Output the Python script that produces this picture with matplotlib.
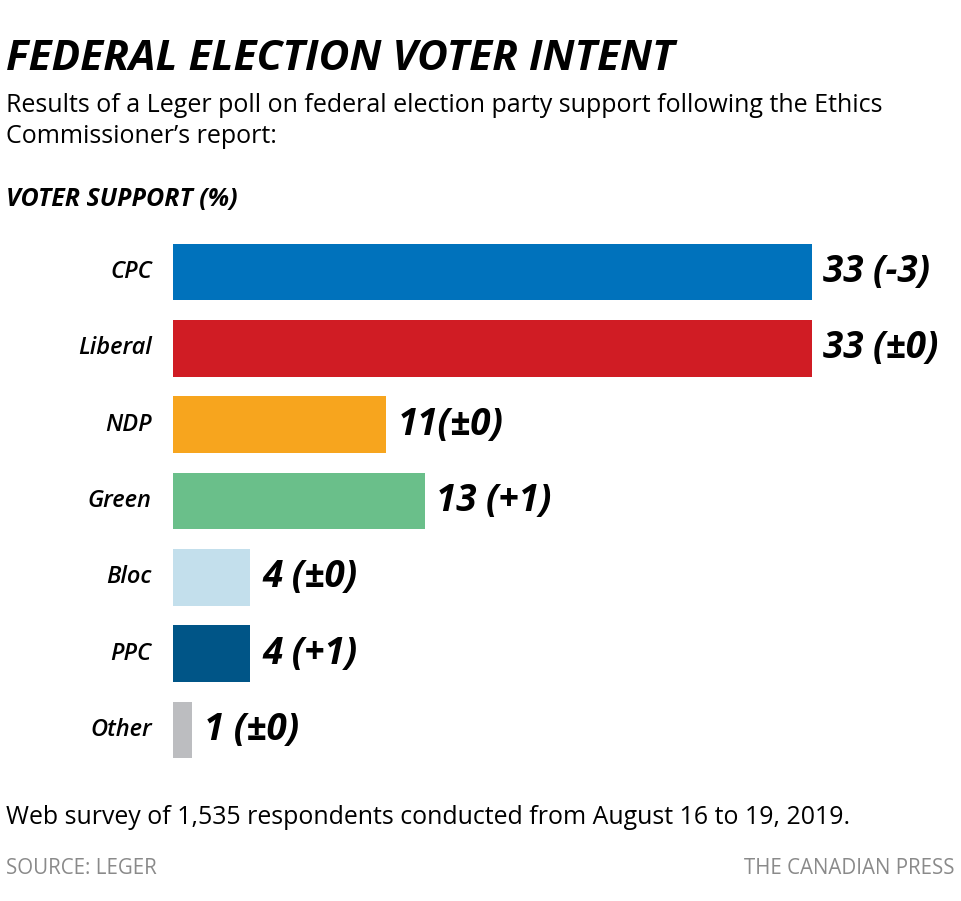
import matplotlib.pyplot as plt

parties = ["CPC", "Liberal", "NDP", "Green", "Bloc", "PPC", "Other"]
support = [33, 33, 11, 13, 4, 4, 1]
value_labels = ["33 (-3)", "33 (\u00b10)", "11(\u00b10)", "13 (+1)", "4 (\u00b10)", "4 (+1)", "1 (\u00b10)"]
colors = ["#0072bc", "#d01c24", "#f7a51e", "#6abf8a", "#c3dfec", "#005587", "#bcbdc0"]

W, H = 961, 901
fig = plt.figure(figsize=(W / 100, H / 100), dpi=100)
plt.rcParams['font.family'] = ['Open Sans', 'DejaVu Sans']

# axes placed in pixel coordinates
left, right, top, bottom = 173, 173 + 40 * 19.36, 234, 768
ax = fig.add_axes([left / W, 1 - bottom / H, (right - left) / W, (bottom - top) / H])
y = range(len(parties))
ax.barh(y, support, height=0.74, color=colors)
ax.set_xlim(0, 40)
ax.set_ylim(len(parties) - 0.5, -0.5)
ax.axis("off")

for i, (v, lab) in enumerate(zip(support, value_labels)):
    ax.text(v + 0.6, i, lab, va="center", ha="left", fontsize=26.5,
            fontweight="bold", fontstyle="italic")
    ax.text(-1.1, i, parties[i], va="center", ha="right", fontsize=17,
            fontstyle="italic", fontweight="semibold", fontstretch="condensed")

fig.text(6 / W, 1 - 60 / H, "FEDERAL ELECTION VOTER INTENT", fontsize=30.5,
         fontweight="bold", fontstyle="italic", va="center")
fig.text(6 / W, 1 - 121 / H,
         "Results of a Leger poll on federal election party support following the Ethics\nCommissioner\u2019s report:",
         fontsize=18, va="center", linespacing=1.35)
fig.text(6 / W, 1 - 200 / H, "VOTER SUPPORT (%)", fontsize=18,
         fontweight="bold", fontstyle="italic", va="center")
fig.text(6 / W, 1 - 818 / H,
         "Web survey of 1,535 respondents conducted from August 16 to 19, 2019.",
         fontsize=17.9, va="center")
fig.text(6 / W, 1 - 868 / H, "SOURCE: LEGER", fontsize=14.8, color="#8a8a8a", va="center")
fig.text(955 / W, 1 - 868 / H, "THE CANADIAN PRESS", fontsize=14.8, color="#8a8a8a",
         va="center", ha="right")

fig.savefig("out.png", dpi=100)
